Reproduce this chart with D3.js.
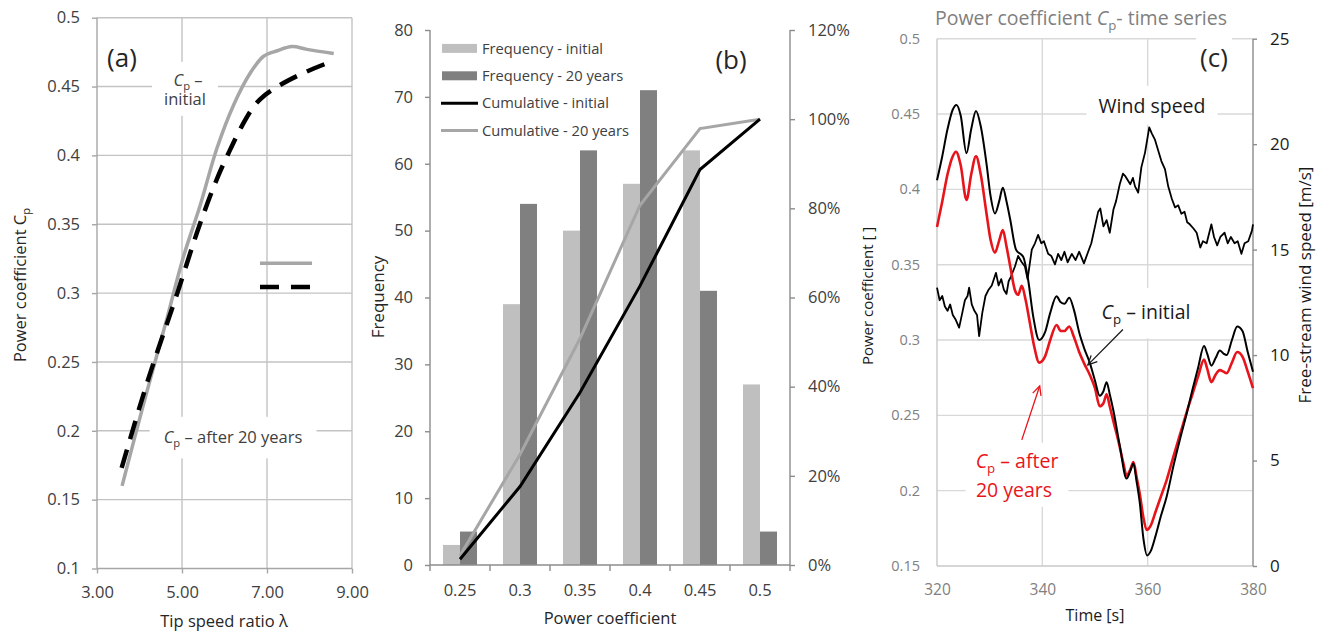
<!DOCTYPE html>
<html><head><meta charset="utf-8">
<script src="https://cdn.jsdelivr.net/npm/d3@7"></script>
<style>
body{margin:0;background:#fff}
svg{display:block}
text{font-family:'Open Sans',sans-serif}
</style>
</head><body>
<svg id="chart" width="1325" height="632"></svg>
<script>
// ---------------- Panel (a) data ----------------
const tsrInitial = [3.59, 4.10, 4.65, 5.02, 5.43, 5.82, 6.22, 6.61, 6.92, 7.24, 7.59, 7.94, 8.57];
const cpCurveInitial = [0.160, 0.220, 0.282, 0.325, 0.364, 0.405, 0.437, 0.460, 0.472, 0.476, 0.479, 0.477, 0.474];
const tsrAged = [3.58, 4.18, 4.89, 5.42, 5.85, 6.10, 6.42, 6.70, 6.96, 7.25, 7.80, 8.59];
const cpCurveAged = [0.173, 0.235, 0.300, 0.350, 0.385, 0.402, 0.422, 0.436, 0.444, 0.450, 0.459, 0.469];
const aYTicks = [0.1, 0.15, 0.2, 0.25, 0.3, 0.35, 0.4, 0.45, 0.5];
const aYTickLabels = ["0.1", "0.15", "0.2", "0.25", "0.3", "0.35", "0.4", "0.45", "0.5"];
const aXTicks = [3, 5, 7, 9];
const aXTickLabels = ["3.00", "5.00", "7.00", "9.00"];

// ---------------- Panel (b) data ----------------
const pcCategories = ["0.25", "0.3", "0.35", "0.4", "0.45", "0.5"];
const freqInitial = [3, 39, 50, 57, 62, 27];
const freq20Years = [5, 54, 62, 71, 41, 5];
const cumInitial = [1.3, 17.6, 38.7, 62.6, 88.7, 100];
const cum20Years = [2.1, 24.8, 50.8, 80.7, 97.9, 100];
const freqTicks = [0, 10, 20, 30, 40, 50, 60, 70, 80];
const pctTicks = [0, 20, 40, 60, 80, 100, 120];
const pctTickLabels = ["0%", "20%", "40%", "60%", "80%", "100%", "120%"];

// ---------------- Panel (c) data ----------------
const cpTimeInit = [320,321,322,323,323.7,324.5,325.6,326.5,327.4,328.3,329.4,330.2,331,331.8,332.5,333.2,333.9,335,336.4,337.3,338.3,339.4,340.5,341.5,342.7,343.5,344.2,345.1,346,347,348,349,350,350.9,351.6,352.2,352.8,353.5,354.7,356,356.7,357.3,357.9,358.5,359.2,359.9,360.6,361.5,362.5,363.6,365,366.2,367.4,368.5,369.6,370.7,371.3,372.1,372.9,373.7,374.4,375,376,377,378,379,380];
const cpInitial = [0.406,0.422,0.440,0.453,0.456,0.449,0.424,0.440,0.452,0.442,0.417,0.395,0.384,0.392,0.401,0.392,0.380,0.360,0.355,0.340,0.315,0.300,0.305,0.318,0.329,0.325,0.324,0.328,0.320,0.305,0.294,0.285,0.273,0.263,0.266,0.272,0.264,0.253,0.230,0.208,0.213,0.218,0.206,0.192,0.168,0.157,0.160,0.170,0.183,0.196,0.218,0.235,0.251,0.267,0.282,0.296,0.291,0.283,0.288,0.293,0.291,0.290,0.300,0.309,0.306,0.292,0.279];
const cpTimeAged = [320,321,322,323,323.6,324.5,325.6,326.5,327.4,328.3,329.4,330.2,331,331.8,332.5,333.2,333.9,334.8,335.4,336.1,336.8,337.6,338.5,339.4,340.5,341.5,342.7,343.5,344.2,345.1,346,347,348,349,350,350.9,351.6,352.2,352.8,353.5,354.5,355.4,356,356.7,357.3,357.9,358.5,359.2,359.8,360.6,361.5,362.5,363.6,365,366.2,367.4,368.5,369.6,370.7,371.3,372.1,372.9,373.7,374.4,375,376,377,378,379,380];
const cpAged = [0.375,0.392,0.410,0.422,0.425,0.416,0.393,0.410,0.422,0.410,0.384,0.366,0.358,0.366,0.373,0.362,0.349,0.333,0.330,0.336,0.327,0.312,0.295,0.285,0.289,0.300,0.310,0.306,0.306,0.309,0.302,0.292,0.284,0.277,0.268,0.256,0.258,0.264,0.256,0.246,0.232,0.218,0.210,0.214,0.219,0.209,0.198,0.182,0.174,0.177,0.186,0.196,0.207,0.224,0.238,0.252,0.264,0.276,0.287,0.281,0.272,0.277,0.280,0.279,0.278,0.285,0.292,0.289,0.279,0.268];
const windTime = [320,320.5,321,321.5,322,322.5,323,323.5,324.2,324.8,325.3,325.8,326.1,326.6,327.1,327.6,328,328.6,329.2,329.8,330.4,331.2,331.7,332.2,332.7,333.2,333.6,334,334.8,335.4,336.1,336.7,337.2,338,338.6,339.2,339.8,340.3,340.7,341.1,341.7,342.4,343,343.6,344.2,344.8,345.6,346.3,347,347.9,348.7,349.3,350,350.6,351,351.6,352.2,352.8,353.5,354,354.7,355.3,355.7,356.2,356.7,357.2,357.6,358.2,358.8,359.5,360.3,360.8,361.4,362,362.6,363.3,363.9,364.6,365.2,365.8,366.4,367,367.5,368,368.7,369.3,370,370.5,371.2,372.1,372.6,373.2,373.8,374.6,375.2,375.8,376.5,377.1,377.8,378.4,379.1,379.8,380];
const windSpeed = [13.2,12.6,12.8,12.3,12.1,12.4,11.9,11.7,11.3,12.0,12.6,12.8,13.2,12.4,12.1,11.9,10.9,12.0,12.8,13.1,13.3,13.9,13.3,13.6,13.1,12.9,13.5,13.7,14.2,14.7,14.4,14.2,13.6,15.0,15.3,15.7,15.3,15.4,15.1,14.8,14.7,14.3,14.8,14.5,14.9,14.4,14.8,14.5,14.9,14.35,14.9,15.3,16.1,16.8,16.95,16.1,16.4,15.8,16.9,17.3,18.1,18.6,18.5,18.3,18.1,18.4,18.0,17.7,18.9,19.6,20.8,20.5,20.2,19.7,19.2,18.8,18.0,17.4,17.0,17.1,16.7,16.8,16.3,16.2,16.0,15.8,15.1,15.4,15.3,16.2,15.6,15.2,15.6,15.8,15.3,15.6,15.3,15.4,14.8,15.3,15.4,15.9,16.2];
const cYTicks = [0.15, 0.2, 0.25, 0.3, 0.35, 0.4, 0.45, 0.5];
const cYTickLabels = ["0.15", "0.2", "0.25", "0.3", "0.35", "0.4", "0.45", "0.5"];
const cXTicks = [320, 340, 360, 380];
const windTicks = [0, 5, 10, 15, 20, 25];

// ---------------- helpers ----------------
const svg = d3.select("#chart");
const TICK = "#404040";

function cpText(g, x, y, o) {
  const size = o.size || 15;
  const t = g.append("text")
    .attr("transform", `translate(${x},${y}) rotate(${o.rotate || 0})`)
    .attr("y", 0.35 * size)
    .attr("text-anchor", o.anchor || "middle")
    .attr("fill", o.color || TICK)
    .style("font-size", size + "px");
  if (o.pre) t.append("tspan").text(o.pre);
  t.append("tspan").style("font-style", o.italic === false ? "normal" : "italic").text("C");
  t.append("tspan").attr("dy", size * 0.28).style("font-size", (size * 0.68) + "px").text("p");
  t.append("tspan").attr("dy", -size * 0.28).text(o.post || "");
  return t;
}
function plainText(g, x, y, str, o) {
  const size = o.size || 15;
  return g.append("text")
    .attr("transform", `translate(${x},${y}) rotate(${o.rotate || 0})`)
    .attr("y", 0.35 * size)
    .attr("text-anchor", o.anchor || "middle")
    .attr("fill", o.color || TICK)
    .style("font-size", size + "px")
    .text(str);
}
function whiteBehind(g, nodes, px, py) {
  let x0 = Infinity, y0 = Infinity, x1 = -Infinity, y1 = -Infinity;
  nodes.forEach(n => {
    const b = n.node().getBBox();
    const m = n.node().getCTM();
    const p0 = {x: b.x * m.a + m.e, y: b.y * m.d + m.f};
    const p1 = {x: (b.x + b.width) * m.a + m.e, y: (b.y + b.height) * m.d + m.f};
    x0 = Math.min(x0, p0.x); y0 = Math.min(y0, p0.y); x1 = Math.max(x1, p1.x); y1 = Math.max(y1, p1.y);
  });
  g.insert("rect", ":first-child").attr("x", x0 - px).attr("y", y0 - py)
    .attr("width", x1 - x0 + 2 * px).attr("height", y1 - y0 + 2 * py).attr("fill", "#fff");
}

// ================= Panel (a) =================
{
  const x = d3.scaleLinear([3, 9], [97, 352]);
  const y = d3.scaleLinear([0.1, 0.5], [568.5, 17.7]);
  const g = svg.append("g");
  g.append("g").selectAll("line").data(aYTicks.slice(1)).join("line")
    .attr("x1", x(3)).attr("x2", x(9)).attr("y1", d => y(d)).attr("y2", d => y(d))
    .attr("stroke", "#c3c3c3").attr("stroke-width", 1.4);
  g.append("g").selectAll("line").data(aXTicks.slice(1)).join("line")
    .attr("x1", d => x(d)).attr("x2", d => x(d)).attr("y1", y(0.1)).attr("y2", y(0.5))
    .attr("stroke", "#c3c3c3").attr("stroke-width", 1.4);
  const ax = g.append("g").attr("transform", `translate(${x(3)},0)`)
    .call(d3.axisLeft(y).tickValues(aYTicks).tickFormat((d, i) => aYTickLabels[i]).tickSize(5).tickPadding(12));
  const bx = g.append("g").attr("transform", `translate(0,${y(0.1)})`)
    .call(d3.axisBottom(x).tickValues(aXTicks).tickFormat((d, i) => aXTickLabels[i]).tickSize(5).tickPadding(13));
  [ax, bx].forEach(a => {
    a.selectAll("path,line").attr("stroke", "#a6a6a6").attr("stroke-width", 1.4);
    a.selectAll("text").attr("fill", TICK).style("font-size", "16.5px").style("font-family", "'Open Sans',sans-serif");
  });
  ax.select(".domain").attr("d", `M0,${y(0.1)}V${y(0.5)}`);
  bx.select(".domain").attr("d", `M${x(3)},0H${x(9)}`);

  const lg = g.append("g");
  const l1 = cpText(lg, 188, 80, {size: 16.5, post: " –"});
  const l2 = plainText(lg, 185, 99, "initial", {size: 16.5});
  whiteBehind(lg, [l1, l2], 12, 6);
  const lg2 = g.append("g");
  const l3 = cpText(lg2, 233, 437, {size: 16.5, post: " – after 20 years"});
  whiteBehind(lg2, [l3], 14, 8);
  const lg3 = g.append("g");
  const l4 = plainText(lg3, 122, 58, "(a)", {size: 26, color: "#262626"});
  whiteBehind(lg3, [l4], 4, 2);

  g.append("line").attr("x1", x(6.835)).attr("x2", x(8.06)).attr("y1", y(0.3216)).attr("y2", y(0.3216))
    .attr("stroke", "#a6a6a6").attr("stroke-width", 3.5);
  g.append("line").attr("x1", x(6.835)).attr("x2", x(8.06)).attr("y1", y(0.3044)).attr("y2", y(0.3044))
    .attr("stroke", "#000").attr("stroke-width", 4.5).attr("stroke-dasharray", "19,12");

  const lineSmooth = d3.line().x(d => x(d[0])).y(d => y(d[1])).curve(d3.curveCatmullRom);
  const lineMono = d3.line().x(d => x(d[0])).y(d => y(d[1])).curve(d3.curveMonotoneX);
  g.append("path").datum(d3.zip(tsrInitial, cpCurveInitial)).attr("d", lineSmooth)
    .attr("fill", "none").attr("stroke", "#a6a6a6").attr("stroke-width", 3.5);
  g.append("path").datum(d3.zip(tsrAged, cpCurveAged)).attr("d", lineMono)
    .attr("fill", "none").attr("stroke", "#000").attr("stroke-width", 4.5).attr("stroke-dasharray", "19,11");

  cpText(g, 20, 285, {size: 16.5, rotate: -90, italic: false, pre: "Power coefficient ", color: "#262626"});
  plainText(g, 224, 621, "Tip speed ratio λ", {size: 16.5, color: "#262626"});
}

// ================= Panel (b) =================
{
  const x = d3.scaleBand().domain(pcCategories).range([430, 790]).paddingInner(26 / 60).paddingOuter(13 / 60);
  const x1 = d3.scaleBand().domain(["initial", "20"]).range([0, x.bandwidth()]);
  const y = d3.scaleLinear([0, 80], [565, 30]);
  const yR = d3.scaleLinear([0, 120], [565, 30]);
  const g = svg.append("g");
  const bw = x.bandwidth(), step = x.step();

  g.append("g").selectAll("rect").data(pcCategories).join("rect")
    .attr("x", d => x(d) + x1("initial")).attr("width", x1.bandwidth())
    .attr("y", (d, i) => y(freqInitial[i])).attr("height", (d, i) => y(0) - y(freqInitial[i]))
    .attr("fill", "#bfbfbf");
  g.append("g").selectAll("rect").data(pcCategories).join("rect")
    .attr("x", d => x(d) + x1("20")).attr("width", x1.bandwidth())
    .attr("y", (d, i) => y(freq20Years[i])).attr("height", (d, i) => y(0) - y(freq20Years[i]))
    .attr("fill", "#808080");

  const ay = g.append("g").attr("transform", `translate(430,0)`)
    .call(d3.axisLeft(y).tickValues(freqTicks).tickSize(5).tickPadding(12));
  const ayR = g.append("g").attr("transform", `translate(790,0)`)
    .call(d3.axisRight(yR).tickValues(pctTicks).tickFormat((d, i) => pctTickLabels[i]).tickSize(5).tickPadding(13));
  const ax = g.append("g").attr("transform", `translate(0,565)`)
    .call(d3.axisBottom(x).tickSize(0).tickPadding(19));
  [ay, ayR, ax].forEach(a => {
    a.selectAll("path,line").attr("stroke", "#8c8c8c").attr("stroke-width", 1.4);
    a.selectAll("text").attr("fill", TICK).style("font-size", "16.5px").style("font-family", "'Open Sans',sans-serif");
  });
  ay.select(".domain").attr("d", "M0,565V30");
  ayR.select(".domain").attr("d", "M0,565V30");
  ax.select(".domain").attr("d", "M430,0H790");
  const bounds = pcCategories.map(c => x(c) - (step - bw) / 2).concat([x(pcCategories[5]) + bw + (step - bw) / 2]);
  ax.append("g").selectAll("line").data(bounds).join("line")
    .attr("x1", d => d).attr("x2", d => d).attr("y1", 0).attr("y2", 6)
    .attr("stroke", "#8c8c8c").attr("stroke-width", 1.4);

  const line = (arr) => d3.line().x((d, i) => x(pcCategories[i]) + bw / 2).y(d => yR(d))(arr);
  g.append("path").attr("d", line(cum20Years)).attr("fill", "none").attr("stroke", "#a6a6a6").attr("stroke-width", 3);
  g.append("path").attr("d", line(cumInitial)).attr("fill", "none").attr("stroke", "#000").attr("stroke-width", 3);

  const leg = [
    {label: "Frequency - initial", type: "rect", color: "#bfbfbf"},
    {label: "Frequency - 20 years", type: "rect", color: "#808080"},
    {label: "Cumulative - initial", type: "line", color: "#000"},
    {label: "Cumulative - 20 years", type: "line", color: "#a6a6a6"}
  ];
  const lgG = g.append("g");
  leg.forEach((d, i) => {
    const yy = 48.4 + i * 27.4;
    if (d.type === "rect") lgG.append("rect").attr("x", 442).attr("y", yy - 4.5).attr("width", 35).attr("height", 9).attr("fill", d.color);
    else lgG.append("line").attr("x1", 441).attr("x2", 478).attr("y1", yy).attr("y2", yy).attr("stroke", d.color).attr("stroke-width", 3);
    plainText(lgG, 482, yy, d.label, {size: 14.7, anchor: "start", color: TICK});
  });
  plainText(g, 731, 60, "(b)", {size: 26, color: "#262626"});
  plainText(g, 378, 297, "Frequency", {size: 17, rotate: -90, color: "#262626"});
  plainText(g, 610, 618, "Power coefficient", {size: 16.5, color: "#262626"});
}

// ================= Panel (c) =================
{
  const x = d3.scaleLinear([320, 380], [937, 1253]);
  const y = d3.scaleLinear([0.15, 0.5], [566, 38.7]);
  const yW = d3.scaleLinear([0, 25], [566, 38.7]);
  const g = svg.append("g");
  const GRID = "#d9d9d9";
  g.append("g").selectAll("line").data(cYTicks.slice(1)).join("line")
    .attr("x1", x(320)).attr("x2", x(380)).attr("y1", d => y(d)).attr("y2", d => y(d))
    .attr("stroke", GRID).attr("stroke-width", 1.4);
  g.append("g").selectAll("line").data(cXTicks.slice(1, 3)).join("line")
    .attr("x1", d => x(d)).attr("x2", d => x(d)).attr("y1", y(0.15)).attr("y2", y(0.5))
    .attr("stroke", GRID).attr("stroke-width", 1.4);

  const ay = g.append("g").attr("transform", `translate(${x(320)},0)`)
    .call(d3.axisLeft(y).tickValues(cYTicks).tickFormat((d, i) => cYTickLabels[i]).tickSize(0).tickPadding(17));
  const ax = g.append("g").attr("transform", `translate(0,${y(0.15)})`)
    .call(d3.axisBottom(x).tickValues(cXTicks).tickFormat(d3.format("d")).tickSize(0).tickPadding(18));
  const ayR = g.append("g").attr("transform", `translate(${x(380)},0)`)
    .call(d3.axisRight(yW).tickValues(windTicks).tickSize(4).tickPadding(13));
  [ay, ax].forEach(a => {
    a.selectAll("path,line").attr("stroke", "#c8c8c8").attr("stroke-width", 1.4);
    a.selectAll("text").attr("fill", "#808080").style("font-family", "'Open Sans',sans-serif");
  });
  ay.selectAll("text").style("font-size", "14.5px");
  ax.selectAll("text").style("font-size", "15.5px");
  ayR.selectAll("path,line").attr("stroke", "#8c8c8c").attr("stroke-width", 1.4);
  ayR.selectAll("text").attr("fill", "#1a1a1a").style("font-size", "17px").style("font-family", "'Open Sans',sans-serif");
  ayR.select(".domain").attr("d", `M0,${yW(0)}V${yW(25)}`);
  ay.select(".domain").attr("d", `M0,${y(0.15)}V${y(0.5)}`);
  ax.select(".domain").attr("d", `M${x(320)},0H${x(380)}`);

  const g1 = g.append("g");
  const w1 = plainText(g1, 1152, 106, "Wind speed", {size: 19.5, color: "#1a1a1a"});
  whiteBehind(g1, [w1], 12, 6);
  const g2 = g.append("g");
  const c1 = cpText(g2, 1146, 312, {size: 19.5, color: "#1a1a1a", post: " – initial"});
  whiteBehind(g2, [c1], 6, 10);
  const g3 = g.append("g");
  const r1 = cpText(g3, 1017, 461, {size: 19.5, color: "#e8141b", post: " – after"});
  const r2 = plainText(g3, 1014, 490, "20 years", {size: 19.5, color: "#e8141b"});
  whiteBehind(g3, [r1, r2], 10, 4);
  const g4 = g.append("g");
  const cc = plainText(g4, 1214, 58, "(c)", {size: 26, color: "#262626"});
  whiteBehind(g4, [cc], 4, 2);

  const lineCp = d3.line().x(d => x(d[0])).y(d => y(d[1])).curve(d3.curveMonotoneX);
  const lineW = d3.line().x(d => x(d[0])).y(d => yW(d[1]));
  g.append("path").datum(d3.zip(windTime, windSpeed)).attr("d", lineW)
    .attr("fill", "none").attr("stroke", "#000").attr("stroke-width", 1.8).attr("stroke-linejoin", "round");
  g.append("path").datum(d3.zip(cpTimeAged, cpAged)).attr("d", lineCp)
    .attr("fill", "none").attr("stroke", "#e8141b").attr("stroke-width", 2.6);
  g.append("path").datum(d3.zip(cpTimeInit, cpInitial)).attr("d", lineCp)
    .attr("fill", "none").attr("stroke", "#000").attr("stroke-width", 2);

  function arrow(t0, c0, t1, c1, color) {
    const X0 = x(t0), Y0 = y(c0), X1 = x(t1), Y1 = y(c1);
    const ang = Math.atan2(Y1 - Y0, X1 - X0), L = 10, a = 0.45;
    g.append("line").attr("x1", X0).attr("y1", Y0).attr("x2", X1).attr("y2", Y1).attr("stroke", color).attr("stroke-width", 1.3);
    g.append("path").attr("d", `M${X1 - L * Math.cos(ang - a)},${Y1 - L * Math.sin(ang - a)}L${X1},${Y1}L${X1 - L * Math.cos(ang + a)},${Y1 - L * Math.sin(ang + a)}`)
      .attr("fill", "none").attr("stroke", color).attr("stroke-width", 1.3);
  }
  arrow(355.3, 0.307, 348.65, 0.2835, "#1a1a1a");
  arrow(336.1, 0.2337, 339.5, 0.2695, "#e8141b");

  cpText(g, 1081, 18, {size: 19.5, color: "#808080", pre: "Power coefficient ", post: "- time series"});
  plainText(g, 868, 296, "Power coefficient [ ]", {size: 15, rotate: -90, color: "#1a1a1a"});
  plainText(g, 1305, 285, "Free-stream wind speed [m/s]", {size: 17, rotate: -90, color: "#1a1a1a"});
  plainText(g, 1095, 615, "Time [s]", {size: 16, color: "#1a1a1a"});
}
</script>
</body></html>
